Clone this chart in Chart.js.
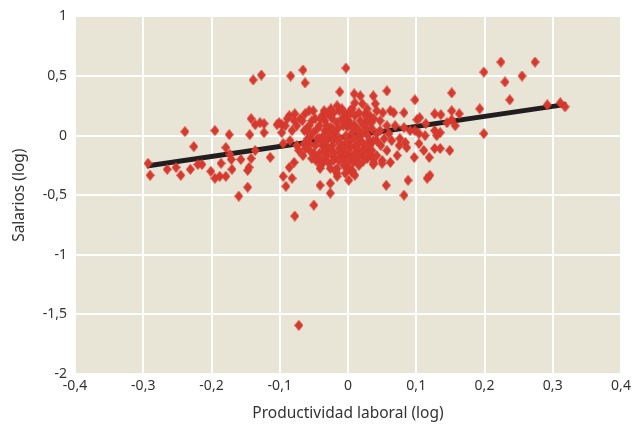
<!DOCTYPE html>
<html>
<head>
<meta charset="utf-8">
<script src="https://cdn.jsdelivr.net/npm/chart.js@4/dist/chart.umd.min.js"></script>
<style>
	html, body { margin: 0; padding: 0; background: #ffffff; }
	#wrap { width: 643px; height: 428px; }
</style>
</head>
<body>
<div id="wrap"><canvas id="scatter-chart" width="643" height="428"></canvas></div>
<script>
// productividad laboral (log)
const productividad = [
	-0.293, -0.290, -0.265, -0.252, -0.245, -0.231, -0.239, -0.226, -0.220, -0.214,
	-0.201, -0.195, -0.188, -0.179, -0.195, -0.174, -0.186, -0.179, -0.173, -0.171,
	-0.170, -0.157, -0.147, -0.145, -0.147, -0.160, -0.139, -0.127, -0.142, -0.144,
	-0.136, -0.129, -0.123, -0.123, -0.136, -0.142, -0.114, -0.104, -0.097, -0.095,
	-0.095, -0.091, -0.084, -0.066, -0.063, -0.003, -0.012, 0.009, 0.018, 0.021,
	0.037, 0.040, -0.086, -0.078, -0.070, -0.063, -0.051, -0.101, -0.092, -0.082,
	-0.097, -0.085, -0.075, -0.086, -0.079, -0.082, -0.041, -0.041, -0.026, -0.026,
	-0.016, -0.050, -0.078, -0.072, 0.001, 0.010, 0.006, -0.063, -0.060, -0.056,
	-0.050, -0.045, -0.038, -0.031, -0.021, -0.013, -0.006, -0.001, 0.010, 0.023,
	0.032, 0.038,
	0.057, 0.098, 0.152, 0.082, 0.062, 0.051, 0.067, 0.127, 0.136, 0.152,
	0.163, 0.193, 0.101, 0.105, 0.114, 0.145, 0.152, 0.157, 0.082, 0.091,
	0.098, 0.104, 0.113, 0.127, 0.135, 0.130, 0.199, 0.047, 0.057, 0.047,
	0.035, 0.053, 0.064, 0.076, 0.084, 0.075, 0.086, 0.104, 0.111, 0.119,
	0.097, 0.072, 0.062, 0.050, 0.035, 0.127, 0.135, 0.149, 0.088, 0.116,
	0.120, 0.056, 0.082, 0.199, 0.224, 0.274, 0.230, 0.255, 0.237, 0.292,
	0.311, 0.318, 0.050, 0.037,
	-0.057, -0.038, -0.028, -0.021, -0.013, -0.004, 0.003, 0.010, 0.025, 0.032,
	0.042, -0.064, -0.060, -0.064, -0.056, -0.053, -0.038, -0.028, -0.021, -0.016,
	-0.006, 0.001, 0.006, 0.013, -0.016, -0.004, 0.031, 0.035, 0.042, 0.042,
	-0.048, -0.042, -0.034, -0.023, -0.016, -0.009, 0.001, 0.010, 0.018, 0.025,
	0.034, -0.051, -0.042, -0.034, -0.026, -0.019, -0.012, -0.001, 0.006, 0.013,
	0.021, 0.028, -0.048, -0.038, -0.031, -0.023, -0.013, -0.004, 0.003, 0.010,
	0.018, 0.025, 0.032, -0.042, -0.031, -0.021, -0.009, 0.001, 0.010, 0.021,
	0.028, -0.035, -0.016, 0.006, 0.028, -0.026, -0.007, 0.016,
	-0.045, -0.037, -0.029, -0.022, -0.015, -0.007, -0.003, 0.004, 0.009, 0.015,
	0.022, 0.029, 0.037, -0.047, -0.035, -0.026, -0.006, 0.001, 0.016, 0.022,
	0.007, -0.015, -0.040, -0.053, -0.059, -0.067, -0.075, -0.089, -0.066, -0.019,
	0.016, 0.026, 0.038, -0.009, -0.025, -0.031, 0.031, -0.056, -0.072, -0.079,
	-0.028, -0.022, -0.016, -0.009, -0.001, 0.006, 0.013, 0.021, 0.028, 0.009,
	0.016, 0.023, 0.031, -0.037, -0.045, -0.040, -0.031, -0.004, 0.004, -0.034,
	-0.025, -0.012, 0.013, 0.001, -0.057, -0.062, 0.048, 0.057, 0.060, 0.069,
	0.042
];

// salarios (log), mismo orden
const salarios = [
	-0.233, -0.333, -0.283, -0.267, -0.333, -0.283, 0.033, -0.092, -0.242, -0.242,
	-0.300, -0.358, -0.342, -0.342, 0.042, 0.008, -0.233, -0.100, -0.158, -0.200,
	-0.283, -0.200, -0.292, -0.267, -0.433, -0.508, 0.467, 0.508, 0.142, 0.008,
	0.092, 0.108, 0.100, 0.025, -0.125, -0.192, -0.183, 0.092, 0.092, -0.067,
	-0.342, -0.425, 0.500, 0.550, 0.442, 0.567, 0.367, 0.350, 0.333, 0.267,
	0.333, 0.267, 0.167, 0.183, 0.142, 0.183, 0.208, 0.108, 0.083, 0.042,
	0.025, -0.042, -0.083, -0.267, -0.225, -0.358, -0.275, -0.417, -0.400, -0.483,
	-0.342, -0.583, -0.675, -1.592, -0.375, -0.333, -0.292, -0.083, 0.042, -0.017,
	-0.150, -0.192, -0.233, -0.100, -0.183, -0.208, -0.183, -0.267, -0.208, -0.125,
	-0.150, -0.225,
	0.375, 0.300, 0.358, 0.192, 0.208, 0.192, 0.192, 0.183, 0.175, 0.208,
	0.183, 0.225, 0.133, 0.150, 0.100, 0.108, 0.133, 0.083, 0.067, 0.042,
	0.042, 0.017, 0.000, 0.042, 0.025, 0.000, 0.017, 0.125, 0.083, 0.042,
	0.058, -0.025, -0.042, -0.025, -0.058, -0.083, -0.100, -0.067, -0.125, -0.183,
	-0.183, -0.167, -0.225, -0.208, -0.183, -0.108, -0.108, -0.125, -0.375, -0.358,
	-0.333, -0.417, -0.500, 0.533, 0.617, 0.617, 0.450, 0.500, 0.300, 0.258,
	0.275, 0.242, -0.233, -0.242,
	0.208, 0.167, 0.183, 0.192, 0.208, 0.183, 0.208, 0.275, 0.183, 0.167,
	0.208, 0.042, 0.058, -0.067, -0.125, -0.192, -0.208, -0.233, -0.208, -0.275,
	-0.250, -0.275, -0.308, -0.208, -0.317, -0.317, -0.042, -0.125, -0.167, 0.017,
	0.142, 0.083, 0.125, 0.142, 0.108, 0.142, 0.125, 0.167, 0.125, 0.108,
	0.108, 0.025, -0.025, 0.042, 0.067, 0.017, -0.025, 0.075, 0.025, 0.058,
	0.017, 0.058, -0.083, -0.083, -0.042, -0.083, -0.108, -0.067, -0.042, -0.092,
	-0.042, -0.108, -0.083, -0.150, -0.167, -0.142, -0.167, -0.167, -0.150, -0.167,
	-0.192, 0.208, 0.250, 0.225, 0.225, -0.275, -0.208, -0.250,
	0.058, -0.008, -0.108, -0.025, 0.058, 0.083, 0.000, -0.092, 0.092, -0.008,
	-0.067, 0.000, -0.042, -0.208, -0.125, 0.167, -0.125, 0.167, 0.192, -0.217,
	-0.225, -0.192, -0.250, 0.125, -0.025, 0.125, 0.083, 0.142, -0.167, -0.292,
	-0.125, 0.167, 0.142, 0.225, 0.225, 0.083, -0.142, -0.067, -0.125, 0.125,
	0.017, 0.058, -0.042, -0.083, -0.125, -0.167, -0.083, -0.125, -0.083, -0.025,
	0.042, 0.083, 0.125, -0.058, -0.025, 0.142, 0.183, 0.125, 0.083, -0.192,
	-0.125, -0.142, -0.192, -0.208, 0.083, -0.108, -0.083, -0.125, 0.017, 0.083,
	-0.042
];

// recta de ajuste (extremos)
const ajusteX = [-0.295, 0.32];
const ajusteY = [-0.255, 0.262];

const xTicks = [-0.4, -0.3, -0.2, -0.1, 0, 0.1, 0.2, 0.3, 0.4];
const yTicks = [-2, -1.5, -1, -0.5, 0, 0.5, 1];

const colorPunto = "#d6392e";
const colorFondo = "#e8e5d7";
const colorTexto = "#333333";
const fuente = "'Noto Sans', 'DejaVu Sans', sans-serif";

function diamondMarker() {
	const c = document.createElement("canvas");
	c.width = 9;
	c.height = 11;
	const g = c.getContext("2d");
	g.fillStyle = colorPunto;
	g.beginPath();
	g.moveTo(4.5, 0);
	g.lineTo(9, 5.5);
	g.lineTo(4.5, 11);
	g.lineTo(0, 5.5);
	g.closePath();
	g.fill();
	return c;
}

function fmt(v) {
	const r = Math.round(v * 10) / 10;
	return String(r).replace(".", ",");
}

const plotBackground = {
	id: "plotBackground",
	beforeDraw(chart) {
		const { ctx, chartArea } = chart;
		ctx.save();
		ctx.fillStyle = colorFondo;
		ctx.fillRect(chartArea.left, chartArea.top, chartArea.right - chartArea.left, chartArea.bottom - chartArea.top);
		ctx.restore();
	}
};

const puntos = productividad.map((x, i) => ({ x: x, y: salarios[i] }));
const recta = ajusteX.map((x, i) => ({ x: x, y: ajusteY[i] }));

const ctx = document.getElementById("scatter-chart").getContext("2d");

new Chart(ctx, {
	type: "scatter",
	data: {
		datasets: [
			{
				label: "observaciones",
				data: puntos,
				pointStyle: diamondMarker(),
				pointRadius: 5,
				pointHoverRadius: 5
			},
			{
				label: "ajuste",
				type: "line",
				data: recta,
				borderColor: "#221e1f",
				borderWidth: 5,
				pointRadius: 0,
				borderCapStyle: "butt",
				fill: false
			}
		]
	},
	options: {
		responsive: false,
		animation: false,
		devicePixelRatio: 1,
		layout: { padding: { top: 14, right: 22, left: 0, bottom: 0 } },
		plugins: {
			legend: { display: false },
			tooltip: { enabled: false }
		},
		scales: {
			x: {
				type: "linear",
				min: -0.4,
				max: 0.4,
				afterBuildTicks: (scale) => { scale.ticks = xTicks.map(v => ({ value: v })); },
				afterFit: (scale) => { scale.height = 54; },
				grid: { color: "#ffffff", lineWidth: 2, drawTicks: false },
				border: { display: false },
				ticks: {
					color: colorTexto,
					font: { family: fuente, size: 14 },
					padding: 4,
					callback: (v) => fmt(v)
				},
				title: {
					display: true,
					text: "Productividad laboral (log)",
					color: colorTexto,
					font: { family: fuente, size: 15.5 },
					padding: { top: 4, bottom: 5 }
				}
			},
			y: {
				type: "linear",
				min: -2,
				max: 1,
				afterBuildTicks: (scale) => { scale.ticks = yTicks.map(v => ({ value: v })); },
				afterFit: (scale) => { scale.width = 75; },
				grid: { color: "#ffffff", lineWidth: 2, drawTicks: false },
				border: { display: false },
				ticks: {
					color: colorTexto,
					font: { family: fuente, size: 14 },
					padding: 8,
					callback: (v) => fmt(v)
				},
				title: {
					display: true,
					text: "Salarios (log)",
					color: colorTexto,
					font: { family: fuente, size: 15.5 },
					padding: { top: 10, bottom: 0 }
				}
			}
		}
	},
	plugins: [plotBackground]
});
</script>
</body>
</html>
